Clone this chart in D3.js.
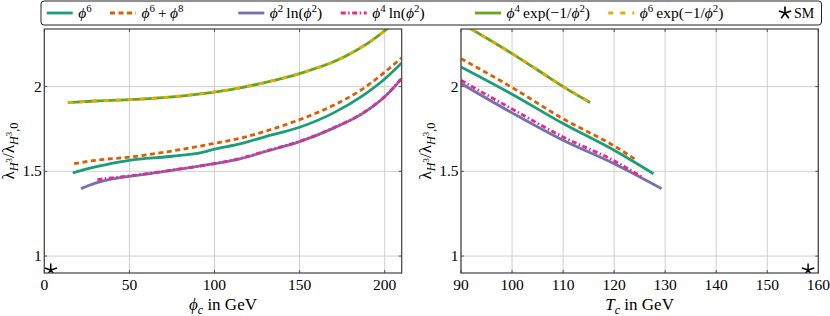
<!DOCTYPE html>
<html lang="en">
<head>
<meta charset="UTF-8">
<title>Trilinear Higgs coupling vs phi_c and T_c</title>
<script src="https://d3js.org/d3.v7.min.js"></script>
<style>
  body { margin: 0; background: #fff; }
  svg text { font-family: "Liberation Serif", "DejaVu Serif", serif; fill: #000; }
</style>
</head>
<body>
<svg id="chart" width="830" height="316"></svg>
<script>

// ---- data ----
// left panel: lambda ratio vs phi_c (GeV)
var phi6_phic = [16.7, 25, 38.6, 50, 75, 93.5, 99.4, 115, 130, 150, 170, 187.6, 200, 210]
var phi6_lamL = [1.49, 1.515, 1.545, 1.565, 1.589, 1.614, 1.63, 1.662, 1.705, 1.76, 1.845, 1.95, 2.045, 2.14]

var phi68_phic = [17.5, 30, 50, 75, 100, 115, 130, 150, 170, 187.6, 200, 210]
var phi68_lamL = [1.545, 1.565, 1.584, 1.62, 1.665, 1.695, 1.737, 1.805, 1.89, 1.99, 2.085, 2.17]

var phi2ln_phic = [21.6, 30, 40, 50, 75, 100, 115, 130, 150, 170, 187.6, 200, 210]
var phi2ln_lamL = [1.398, 1.43, 1.455, 1.47, 1.506, 1.545, 1.574, 1.617, 1.675, 1.755, 1.845, 1.94, 2.047]

var phi4ln_phic = [31.2, 40, 50, 75, 100, 115, 130, 150, 170, 187.6, 200, 210]
var phi4ln_lamL = [1.451, 1.462, 1.473, 1.507, 1.546, 1.576, 1.619, 1.677, 1.757, 1.847, 1.942, 2.049]

var exp4_phic = [13.8, 30, 50, 75, 100, 109.4, 130, 150, 172, 180, 190, 201.4, 210]
var exp4_lamL = [1.906, 1.915, 1.923, 1.94, 1.968, 1.982, 2.025, 2.077, 2.155, 2.195, 2.255, 2.34, 2.41]

var exp6_phic = exp4_phic
var exp6_lamL = [1.906, 1.915, 1.923, 1.94, 1.969, 1.982, 2.025, 2.078, 2.155, 2.196, 2.256, 2.34, 2.41]

// right panel: lambda ratio vs T_c (GeV)
var phi6_tc = [90, 100, 110, 120, 127.7]
var phi6_lamR = [2.116, 1.955, 1.782, 1.624, 1.486]

var phi68_tc = [90, 100, 110, 120, 124.3]
var phi68_lamR = [2.165, 1.995, 1.81, 1.65, 1.568]

var phi2ln_tc = [90, 100, 110, 120, 129.3]
var phi2ln_lamR = [2.018, 1.845, 1.683, 1.545, 1.398]

var phi4ln_tc = [90, 100, 110, 120, 125.4]
var phi4ln_lamR = [2.037, 1.868, 1.703, 1.562, 1.468]

var exp4_tc = [90, 92.1, 100, 105, 110, 115.3]
var exp4_lamR = [2.376, 2.338, 2.195, 2.098, 2.0, 1.906]

var exp6_tc = exp4_tc
var exp6_lamR = [2.376, 2.338, 2.196, 2.099, 2.001, 1.907]

// Standard Model point
var sm_phic = 3.8, sm_tc = 158, sm_lam = 0.918

var seriesNames = ['ϕ^6', 'ϕ^6 + ϕ^8', 'ϕ^2 ln(ϕ^2)', 'ϕ^4 ln(ϕ^2)', 'ϕ^4 exp(−1/ϕ^2)', 'ϕ^6 exp(−1/ϕ^2)']
var seriesColors = ['#1b9e77', '#d95f02', '#7570b3', '#e7298a', '#66a61e', '#e6ab02']
var seriesDash = [null, '5,3.5', null, '5,2.5,1.5,2.5', null, '5,7']

var leftX = [phi6_phic, phi68_phic, phi2ln_phic, phi4ln_phic, exp4_phic, exp6_phic]
var leftY = [phi6_lamL, phi68_lamL, phi2ln_lamL, phi4ln_lamL, exp4_lamL, exp6_lamL]
var rightX = [phi6_tc, phi68_tc, phi2ln_tc, phi4ln_tc, exp4_tc, exp6_tc]
var rightY = [phi6_lamR, phi68_lamR, phi2ln_lamR, phi4ln_lamR, exp4_lamR, exp6_lamR]

var leftTicks = [0, 50, 100, 150, 200]
var rightTicks = [90, 100, 110, 120, 130, 140, 150, 160]
var yTicks = [1, 1.5, 2]

// ---- layout ----
var plotTop = 29, plotBottom = 273
var svg = d3.select('#chart')

var y = d3.scaleLinear().domain([0.9, 2.34]).range([plotBottom, plotTop])

// rich text: parts [text, shift(em), scale, italic]
function rich(sel, parts, size) {
    var off = 0
    parts.forEach(p => {
        var target = p[1] * size
        sel.append('tspan')
            .attr('dy', target - off)
            .attr('font-size', size * p[2])
            .attr('font-style', p[3] ? 'italic' : 'normal')
            .text(p[0])
        off = target
    })
}

// 'ϕ^6 + ϕ^8' -> parts
function parseLabel(s) {
    var parts = []
    for (var i = 0; i < s.length; i++) {
        var c = s[i]
        if (c === '^') { parts.push([s[i + 1], -0.38, 0.7, false]); i++ }
        else if (c === 'ϕ') parts.push([c, 0, 1, true])
        else if (c === ' ') parts.push(['\u2009', 0, 1, false])
        else {
            var last = parts[parts.length - 1]
            if (last && last[1] === 0 && !last[3] && last[0] !== '\u2009') last[0] += c
            else parts.push([c, 0, 1, false])
        }
    }
    return parts
}

function starPath(cx, cy, r) {
    var d = ''
    for (var k = 0; k < 5; k++) {
        var a = -Math.PI / 2 + k * 2 * Math.PI / 5
        d += `M${cx},${cy}L${cx + r * Math.cos(a)},${cy + r * Math.sin(a)}`
    }
    return d
}

function panel(id, x0, x1, domain, ticks, xs, ys, smX, xlabel) {
    var x = d3.scaleLinear().domain(domain).range([x0, x1])
    var g = svg.append('g')

    g.append('clipPath').attr('id', 'clip-' + id)
        .append('rect').attr('x', x0).attr('y', plotTop).attr('width', x1 - x0).attr('height', plotBottom - plotTop)

    // grid
    g.selectAll('.gx').data(ticks).enter().append('line')
        .attr('x1', d => x(d)).attr('x2', d => x(d)).attr('y1', plotTop).attr('y2', plotBottom)
        .attr('stroke', '#cfcfcf').attr('stroke-width', 1)
    g.selectAll('.gy').data(yTicks).enter().append('line')
        .attr('x1', x0).attr('x2', x1).attr('y1', d => y(d)).attr('y2', d => y(d))
        .attr('stroke', '#cfcfcf').attr('stroke-width', 1)

    // small inward ticks
    ticks.forEach(t => {
        g.append('line').attr('x1', x(t)).attr('x2', x(t)).attr('y1', plotBottom).attr('y2', plotBottom - 3).attr('stroke', '#555')
        g.append('line').attr('x1', x(t)).attr('x2', x(t)).attr('y1', plotTop).attr('y2', plotTop + 3).attr('stroke', '#555')
    })
    yTicks.forEach(t => {
        g.append('line').attr('x1', x0).attr('x2', x0 + 3).attr('y1', y(t)).attr('y2', y(t)).attr('stroke', '#555')
        g.append('line').attr('x1', x1).attr('x2', x1 - 3).attr('y1', y(t)).attr('y2', y(t)).attr('stroke', '#555')
    })

    // curves
    var line = d3.line().x(d => x(d[0])).y(d => y(d[1])).curve(d3.curveMonotoneX)
    var cg = g.append('g').attr('clip-path', `url(#clip-${id})`)
    xs.forEach((xv, i) => {
        var pts = xv.map((v, j) => [v, ys[i][j]])
        cg.append('path')
            .attr('d', line(pts))
            .attr('fill', 'none')
            .attr('stroke', seriesColors[i])
            .attr('stroke-width', 2.8)
            .attr('stroke-dasharray', seriesDash[i])
    })

    // SM star
    cg.append('path').attr('d', starPath(x(smX), y(sm_lam), 6.5))
        .attr('stroke', '#000').attr('stroke-width', 1.5).attr('fill', 'none')

    // frame
    g.append('rect').attr('x', x0).attr('y', plotTop).attr('width', x1 - x0).attr('height', plotBottom - plotTop)
        .attr('fill', 'none').attr('stroke', '#404040').attr('stroke-width', 1.2)

    // tick labels
    g.selectAll('.tx').data(ticks).enter().append('text')
        .attr('x', d => x(d)).attr('y', plotBottom + 16.5)
        .attr('text-anchor', 'middle').attr('font-size', 15.5)
        .text(d => d)
    g.selectAll('.ty').data(yTicks).enter().append('text')
        .attr('x', x0 - 2.5).attr('y', d => y(d)).attr('dy', '0.33em')
        .attr('text-anchor', 'end').attr('font-size', 15.5)
        .text(d => d)

    // x label
    var xl = g.append('text').attr('x', (x0 + x1) / 2).attr('y', 310).attr('text-anchor', 'middle')
    rich(xl, xlabel, 17)

    // y label
    var yl = g.append('text')
        .attr('transform', `translate(${x0 - 30},${(plotTop + plotBottom) / 2}) rotate(-90)`)
        .attr('text-anchor', 'middle')
    rich(yl, [['λ', 0, 1, false], ['H', 0.22, 0.72, true], ['3', -0.12, 0.52, false],
              ['/λ', 0, 1, false], ['H', 0.22, 0.72, true], ['3', -0.12, 0.52, false], [',0', 0.22, 0.72, false]], 17)
}

panel('l', 44.3, 401.7, [0, 210], leftTicks, leftX, leftY, sm_phic,
    [['ϕ', 0, 1, true], ['c', 0.22, 0.7, true], [' in GeV', 0, 1, false]])
panel('r', 461, 818.3, [90, 160], rightTicks, rightX, rightY, sm_tc,
    [['T', 0, 1, true], ['c', 0.22, 0.7, true], [' in GeV', 0, 1, false]])

// ---- legend ----
var lg = svg.append('g')
lg.append('rect').attr('x', 41).attr('y', 1).attr('width', 780.5).attr('height', 24).attr('rx', 3)
    .attr('fill', '#fff').attr('stroke', '#222').attr('stroke-width', 1)

var legX = [46.7, 110, 238.3, 340.7, 475, 608.3]
seriesNames.forEach((name, i) => {
    lg.append('line').attr('x1', legX[i]).attr('x2', legX[i] + 26).attr('y1', 13).attr('y2', 13)
        .attr('stroke', seriesColors[i]).attr('stroke-width', 2.8)
        .attr('stroke-dasharray', seriesDash[i])
    var t = lg.append('text').attr('x', legX[i] + 31.5).attr('y', 18)
    rich(t, parseLabel(name), 15.5)
})
lg.append('path').attr('d', starPath(785, 13, 6.5)).attr('stroke', '#000').attr('stroke-width', 1.7).attr('fill', 'none')
lg.append('text').attr('x', 794).attr('y', 18).attr('font-size', 14).text('SM')

</script>
</body>
</html>
